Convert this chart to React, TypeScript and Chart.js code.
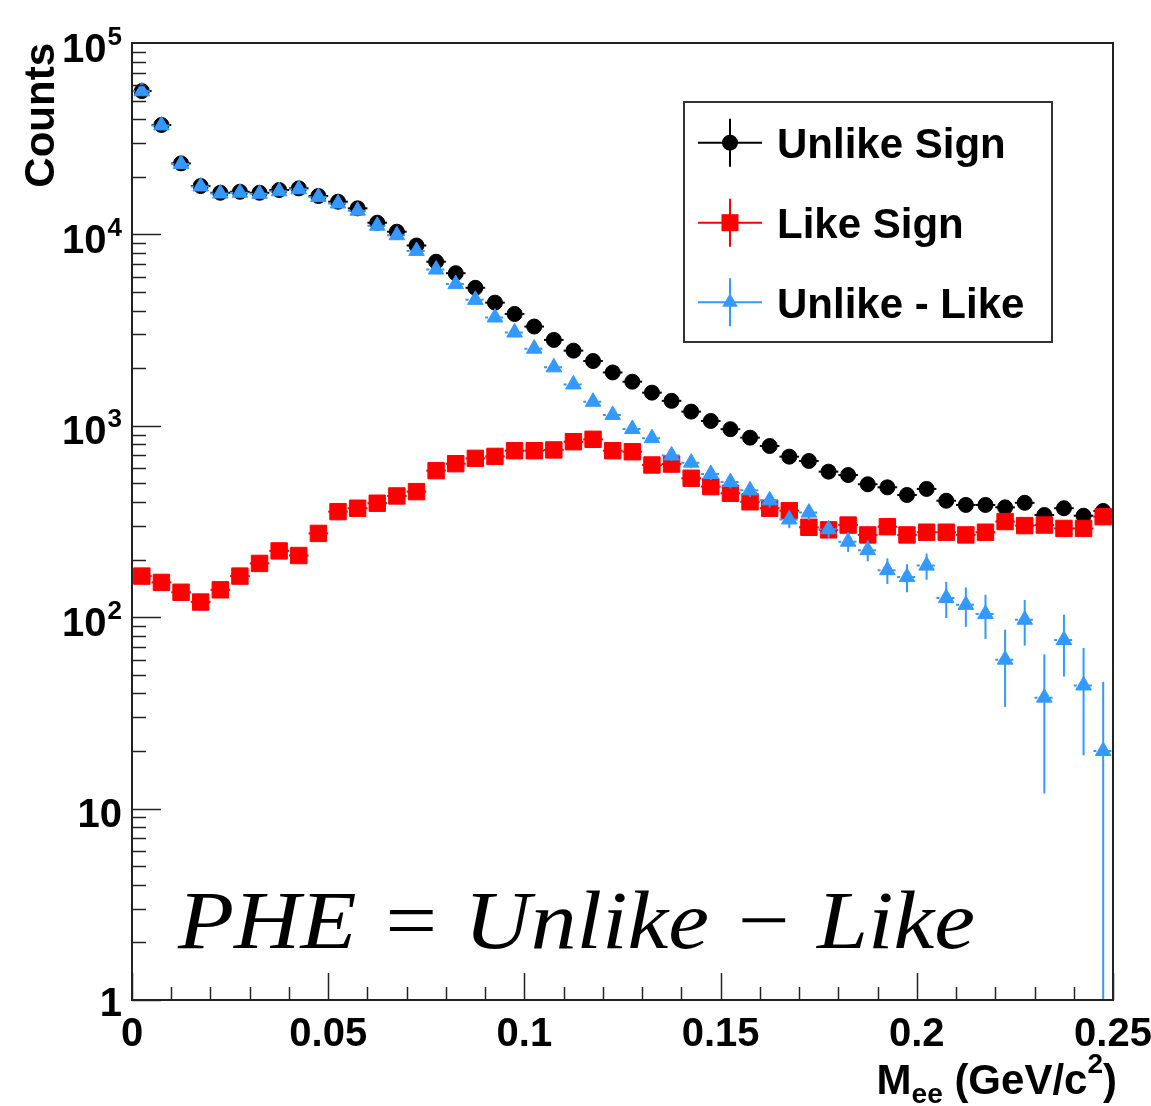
import React, { useEffect, useRef } from "react";
import { Chart, registerables } from "chart.js";

Chart.register(...registerables);

// ---------- data ----------
const binCenters = [
  0.0025, 0.0075, 0.0125, 0.0175, 0.0225, 0.0275, 0.0325, 0.0375, 0.0425, 0.0475,
  0.0525, 0.0575, 0.0625, 0.0675, 0.0725, 0.0775, 0.0825, 0.0875, 0.0925, 0.0975,
  0.1025, 0.1075, 0.1125, 0.1175, 0.1225, 0.1275, 0.1325, 0.1375, 0.1425, 0.1475,
  0.1525, 0.1575, 0.1625, 0.1675, 0.1725, 0.1775, 0.1825, 0.1875, 0.1925, 0.1975,
  0.2025, 0.2075, 0.2125, 0.2175, 0.2225, 0.2275, 0.2325, 0.2375, 0.2425, 0.2475,
];
const binHalfWidth = 0.0025;

const unlikeSign = [
  56100, 37300, 23500, 17900, 16500, 16700, 16500, 17060, 17400, 15870,
  14820, 13680, 11510, 10330, 8750, 7200, 6270, 5260, 4400, 3840,
  3300, 2810, 2470, 2180, 1900, 1700, 1490, 1350, 1186, 1060,
  960, 867, 784, 690, 655, 576, 553, 495, 477, 435,
  468, 406, 386, 386, 375, 396, 342, 371, 339, 359,
];
const unlikeSignErr = [
  237, 193, 153, 134, 128, 129, 128, 131, 132, 126,
  122, 117, 107, 102, 94, 85, 79, 72, 66, 62,
  57, 53, 50, 47, 44, 41, 39, 37, 34, 33,
  31, 29, 28, 26, 26, 24, 24, 22, 22, 21,
  22, 20, 20, 20, 19, 20, 18, 19, 18, 19,
];

const likeSign = [
  164, 152, 135, 120, 139, 164, 191, 222, 210, 274,
  356, 371, 394, 430, 453, 583, 634, 676, 692, 741,
  741, 748, 826, 850, 741, 732, 624, 631, 532, 481,
  444, 401, 371, 360, 295, 286, 303, 269, 297, 269,
  278, 278, 269, 278, 316, 301, 303, 291, 291, 335,
];
const likeSignErr = [
  13, 12, 12, 11, 12, 13, 14, 15, 14, 17,
  19, 19, 20, 21, 21, 24, 25, 26, 26, 27,
  27, 27, 29, 29, 27, 27, 25, 25, 23, 22,
  21, 20, 19, 19, 17, 17, 17, 16, 17, 16,
  17, 17, 16, 17, 18, 17, 17, 17, 17, 18,
];

const unlikeMinusLike = [
  55900, 37100, 23300, 17800, 16350, 16500, 16300, 16800, 17200, 15700,
  14500, 13300, 11100, 9900, 8200, 6550, 5500, 4550, 3680, 3070,
  2530, 2020, 1645, 1335, 1140, 962, 862, 700, 642, 560,
  508, 460, 408, 324, 352, 288, 248, 224, 176, 162,
  186, 126, 116, 104, 60, 97, 38, 76, 44, 20,
];
const unlikeMinusLikeErr = [
  237, 193, 153, 134, 129, 130, 129, 131, 133, 126,
  122, 117, 107, 102, 94, 88, 83, 77, 71, 67,
  64, 60, 57, 55, 52, 49, 46, 44, 41, 39,
  37, 36, 34, 32, 31, 29, 29, 28, 27, 27,
  29, 27, 27, 27, 26, 26, 26, 27, 25, 26,
];

const seriesNames = ["Unlike Sign", "Like Sign", "Unlike - Like"];
const seriesColors = ["#000000", "#ff0000", "#3399ff"];

const xTickValues = [0, 0.05, 0.1, 0.15, 0.2, 0.25];
const xTickLabels = ["0", "0.05", "0.1", "0.15", "0.2", "0.25"];
const yTickExponents = [0, 1, 2, 3, 4, 5];

const yTitle = "Counts";
const xTitleMain = "M";
const xTitleSub = "ee";
const xTitleMid = " (GeV/c";
const xTitleSup = "2";
const xTitleEnd = ")";
const annotation = "PHE = Unlike \u2212 Like";

// ---------- drawing helpers ----------
const SANS = '"Liberation Sans", Arial, Helvetica, sans-serif';
const SERIF = '"Liberation Serif", "DejaVu Serif", "Times New Roman", serif';

const errorBarPlugin = {
  id: "errorBars",
  beforeDatasetDraw(chart: any, args: any) {
    const ds = chart.data.datasets[args.index];
    if (!ds.errors) return;
    const { ctx, chartArea } = chart;
    const xs = chart.scales.x;
    const ys = chart.scales.y;
    ctx.save();
    ctx.beginPath();
    ctx.rect(chartArea.left, chartArea.top, chartArea.right - chartArea.left, chartArea.bottom - chartArea.top);
    ctx.clip();
    ctx.strokeStyle = ds.barColor;
    ctx.lineWidth = 2;
    ds.data.forEach((p: any, i: number) => {
      const err = ds.errors[i];
      const px = xs.getPixelForValue(p.x);
      const py = ys.getPixelForValue(p.y);
      // vertical
      const yHi = ys.getPixelForValue(p.y + err);
      const lo = p.y - err;
      const yLo = lo > 0 ? Math.min(ys.getPixelForValue(lo), chartArea.bottom) : chartArea.bottom;
      ctx.setLineDash([]);
      ctx.beginPath();
      ctx.moveTo(px, yHi);
      ctx.lineTo(px, yLo);
      ctx.stroke();
      // horizontal (bin width)
      if (ds.hDash) ctx.setLineDash(ds.hDash);
      ctx.beginPath();
      ctx.moveTo(xs.getPixelForValue(p.x - binHalfWidth), py);
      ctx.lineTo(xs.getPixelForValue(p.x + binHalfWidth), py);
      ctx.stroke();
    });
    ctx.restore();
  },
};

function drawMarker(ctx: CanvasRenderingContext2D, kind: string, x: number, y: number, color: string) {
  ctx.fillStyle = color;
  ctx.beginPath();
  if (kind === "circle") {
    ctx.arc(x, y, 8, 0, Math.PI * 2);
  } else if (kind === "rect") {
    ctx.rect(x - 8.5, y - 8.5, 17, 17);
  } else {
    ctx.moveTo(x, y - 9);
    ctx.lineTo(x + 7.8, y + 4.5);
    ctx.lineTo(x - 7.8, y + 4.5);
    ctx.closePath();
  }
  ctx.fill();
}

const decorPlugin = {
  id: "decor",
  afterDraw(chart: any) {
    const { ctx, chartArea } = chart;
    const xs = chart.scales.x;
    const ys = chart.scales.y;
    const { left, right, top, bottom } = chartArea;
    ctx.save();

    // ticks
    ctx.strokeStyle = "#222";
    ctx.lineWidth = 1.5;
    for (let i = 0; i <= 25; i++) {
      const v = i * 0.01;
      const px = Math.round(xs.getPixelForValue(v)) + 0.5;
      const len = i % 5 === 0 ? 27 : 13;
      ctx.beginPath();
      ctx.moveTo(px, bottom);
      ctx.lineTo(px, bottom - len);
      ctx.stroke();
    }
    for (let e = 0; e < 5; e++) {
      for (let m = 1; m <= 9; m++) {
        const v = m * Math.pow(10, e);
        const py = Math.round(ys.getPixelForValue(v)) + 0.5;
        const len = m === 1 ? 29 : 14;
        ctx.beginPath();
        ctx.moveTo(left, py);
        ctx.lineTo(left + len, py);
        ctx.stroke();
      }
    }

    // frame
    ctx.strokeStyle = "#222";
    ctx.lineWidth = 2;
    ctx.strokeRect(left, top, right - left, bottom - top);

    // x tick labels
    ctx.fillStyle = "#000";
    ctx.font = `bold 40px ${SANS}`;
    ctx.textAlign = "center";
    ctx.textBaseline = "alphabetic";
    xTickValues.forEach((v, i) => {
      ctx.fillText(xTickLabels[i], xs.getPixelForValue(v), bottom + 46);
    });

    // y tick labels
    const labelRight = 122;
    yTickExponents.forEach((e) => {
      const py = ys.getPixelForValue(Math.pow(10, e));
      ctx.textAlign = "right";
      if (e === 0) {
        ctx.font = `bold 40px ${SANS}`;
        ctx.fillText("1", labelRight, py + 16);
      } else if (e === 1) {
        ctx.font = `bold 40px ${SANS}`;
        ctx.fillText("10", labelRight, py + 18.5);
      } else {
        ctx.font = `bold 26px ${SANS}`;
        const sw = ctx.measureText(String(e)).width;
        ctx.fillText(String(e), labelRight, py + 1.5);
        ctx.font = `bold 40px ${SANS}`;
        ctx.fillText("10", labelRight - sw - 1, py + 18.5);
      }
    });

    // y title
    ctx.save();
    ctx.translate(54, top);
    ctx.rotate(-Math.PI / 2);
    ctx.font = `bold 42px ${SANS}`;
    ctx.textAlign = "right";
    ctx.textBaseline = "alphabetic";
    ctx.fillText(yTitle, 0, 0);
    ctx.restore();

    // x title
    {
      const big = `bold 42px ${SANS}`;
      const small = `bold 28px ${SANS}`;
      ctx.textAlign = "left";
      ctx.font = big;
      const wM = ctx.measureText(xTitleMain).width;
      const wMid = ctx.measureText(xTitleMid).width;
      const wEnd = ctx.measureText(xTitleEnd).width;
      ctx.font = small;
      const wSub = ctx.measureText(xTitleSub).width;
      const wSup = ctx.measureText(xTitleSup).width;
      const total = wM + wSub + wMid + wSup + wEnd;
      let x = right + 4 - total;
      const base = 1094;
      ctx.font = big;
      ctx.fillText(xTitleMain, x, base);
      x += wM;
      ctx.font = small;
      ctx.fillText(xTitleSub, x, base + 9);
      x += wSub;
      ctx.font = big;
      ctx.fillText(xTitleMid, x, base);
      x += wMid;
      ctx.font = small;
      ctx.fillText(xTitleSup, x, base - 21);
      x += wSup;
      ctx.font = big;
      ctx.fillText(xTitleEnd, x, base);
    }

    // annotation text
    {
      ctx.font = `italic 83px ${SERIF}`;
      ctx.textAlign = "left";
      const w = ctx.measureText(annotation).width;
      ctx.save();
      ctx.translate(178, 948);
      ctx.scale(797 / w, 1);
      ctx.fillText(annotation, 0, 0);
      ctx.restore();
    }

    // legend
    {
      const bx = 684, by = 102, bw = 368, bh = 240;
      ctx.fillStyle = "#fff";
      ctx.fillRect(bx, by, bw, bh);
      ctx.strokeStyle = "#333";
      ctx.lineWidth = 2;
      ctx.strokeRect(bx, by, bw, bh);
      const rows = [142.7, 222.7, 302.3];
      const kinds = ["circle", "rect", "triangle"];
      const mx = 730;
      rows.forEach((ry, i) => {
        ctx.strokeStyle = seriesColors[i];
        ctx.lineWidth = 2;
        ctx.beginPath();
        ctx.moveTo(mx - 32, ry);
        ctx.lineTo(mx + 32, ry);
        ctx.moveTo(mx, ry - 24);
        ctx.lineTo(mx, ry + 24);
        ctx.stroke();
        drawMarker(ctx, kinds[i], mx, ry, seriesColors[i]);
        ctx.fillStyle = "#000";
        ctx.font = `bold 42px ${SANS}`;
        ctx.textAlign = "left";
        ctx.textBaseline = "alphabetic";
        ctx.fillText(seriesNames[i], 777, ry + 15.5);
      });
    }

    ctx.restore();
  },
};

export default function App() {
  const canvasRef = useRef<HTMLCanvasElement>(null);

  useEffect(() => {
    document.body.style.margin = "0";
    const canvas = canvasRef.current;
    if (!canvas) return;
    const toPoints = (vals: number[]) => vals.map((v, i) => ({ x: binCenters[i], y: v }));

    const chart = new Chart(canvas, {
      type: "scatter",
      data: {
        datasets: [
          {
            label: seriesNames[2],
            data: toPoints(unlikeMinusLike),
            errors: unlikeMinusLikeErr,
            barColor: seriesColors[2],
            hDash: [3, 2],
            pointStyle: "triangle",
            pointRadius: 9,
            pointBackgroundColor: seriesColors[2],
            pointBorderColor: seriesColors[2],
            pointBorderWidth: 1,
            showLine: false,
            order: 0,
          } as any,
          {
            label: seriesNames[1],
            data: toPoints(likeSign),
            errors: likeSignErr,
            barColor: seriesColors[1],
            pointStyle: "rect",
            pointRadius: 11.6,
            pointBackgroundColor: seriesColors[1],
            pointBorderColor: seriesColors[1],
            pointBorderWidth: 1,
            showLine: false,
            order: 1,
          } as any,
          {
            label: seriesNames[0],
            data: toPoints(unlikeSign),
            errors: unlikeSignErr,
            barColor: seriesColors[0],
            pointStyle: "circle",
            pointRadius: 7.5,
            pointBackgroundColor: seriesColors[0],
            pointBorderColor: seriesColors[0],
            pointBorderWidth: 1,
            showLine: false,
            order: 2,
          } as any,
        ],
      },
      options: {
        responsive: false,
        devicePixelRatio: 1,
        animation: false,
        layout: { padding: { left: 0, top: 43, right: 38, bottom: 0 } },
        plugins: {
          legend: { display: false },
          tooltip: { enabled: false },
        },
        events: [],
        scales: {
          x: {
            type: "linear",
            min: 0,
            max: 0.25,
            grid: { display: false, drawTicks: false },
            border: { display: false },
            ticks: { display: false, stepSize: 0.01 },
            afterFit: (s: any) => {
              s.height = 106;
              s.paddingLeft = 0;
              s.paddingRight = 0;
            },
          },
          y: {
            type: "logarithmic",
            min: 1,
            max: 100000,
            grid: { display: false, drawTicks: false },
            border: { display: false },
            ticks: { display: false },
            afterFit: (s: any) => {
              s.width = 132;
              s.paddingTop = 0;
              s.paddingBottom = 0;
            },
          },
        },
      } as any,
      plugins: [errorBarPlugin, decorPlugin],
    });

    return () => chart.destroy();
  }, []);

  return (
    <div style={{ width: 1151, height: 1106, background: "#fff", overflow: "hidden" }}>
      <canvas ref={canvasRef} width={1151} height={1106} style={{ display: "block" }} />
    </div>
  );
}
